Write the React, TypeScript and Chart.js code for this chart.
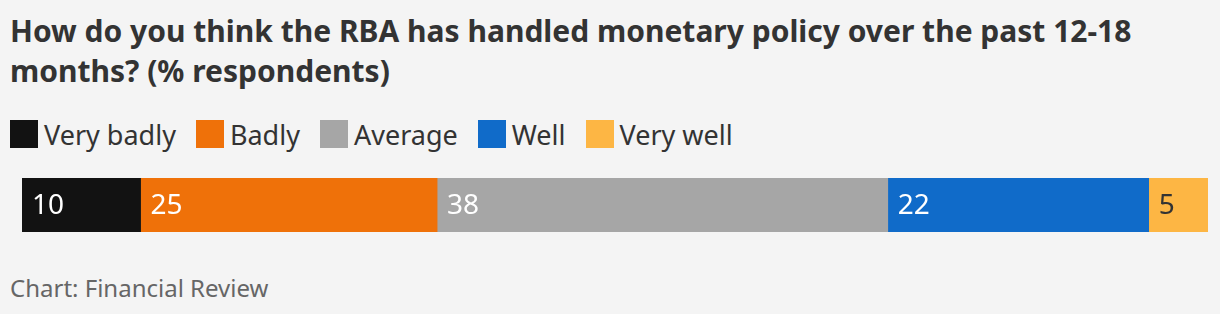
import React, { useEffect, useRef } from "react";
import { Chart, registerables } from "chart.js";

Chart.register(...registerables);

const categories = ["Respondents"];
const seriesNames = ["Very badly", "Badly", "Average", "Well", "Very well"];
const seriesValues = [10, 25, 38, 22, 5];
const seriesColors = ["#121212", "#ef7109", "#a6a6a6", "#106bc9", "#fdb644"];
const labelColors = ["#ffffff", "#ffffff", "#ffffff", "#ffffff", "#333333"];

const FONT = '"Noto Sans", "Open Sans", sans-serif';

export default function App() {
  const ref = useRef<HTMLCanvasElement | null>(null);

  useEffect(() => {
    if (!ref.current) return;
    const labelPlugin = {
      id: "segLabels",
      afterDatasetsDraw(chart: any) {
        const ctx = chart.ctx;
        ctx.save();
        ctx.font = `28px ${FONT}`;
        ctx.textBaseline = "alphabetic";
        ctx.textAlign = "left";
        chart.data.datasets.forEach((ds: any, i: number) => {
          const meta = chart.getDatasetMeta(i);
          meta.data.forEach((bar: any, j: number) => {
            const left = Math.min(bar.x, bar.base);
            ctx.fillStyle = labelColors[i];
            ctx.fillText(String(ds.data[j]), left + 10, bar.y + 9);
          });
        });
        ctx.restore();
      },
    };
    const chart = new Chart(ref.current, {
      type: "bar",
      data: {
        labels: categories,
        datasets: seriesNames.map((name, i) => ({
          label: name,
          data: [seriesValues[i]],
          backgroundColor: seriesColors[i],
          borderWidth: 0,
          barPercentage: 1,
          categoryPercentage: 1,
        })),
      },
      options: {
        indexAxis: "y",
        responsive: false,
        maintainAspectRatio: false,
        animation: false,
        layout: { padding: 0 },
        plugins: { legend: { display: false }, tooltip: { enabled: false }, title: { display: false } },
        scales: {
          x: { stacked: true, min: 0, max: 100, display: false },
          y: { stacked: true, display: false },
        },
      },
      plugins: [labelPlugin],
    });
    return () => chart.destroy();
  }, []);

  return (
    <div
      style={{
        position: "fixed",
        left: 0,
        top: 0,
        width: 1220,
        height: 314,
        background: "#f4f4f4",
        fontFamily: FONT,
        color: "#333333",
        overflow: "hidden",
      }}
    >
      <div
        style={{
          position: "absolute",
          left: 10,
          top: 11,
          width: 1200,
          fontSize: 30,
          fontWeight: 700,
          lineHeight: "40px",
          color: "#333333",
          whiteSpace: "nowrap",
        }}
      >
        How do you think the RBA has handled monetary policy over the past 12-18
        <br />
        months? (% respondents)
      </div>
      <div
        style={{
          position: "absolute",
          left: 10,
          top: 116,
          display: "flex",
          alignItems: "center",
          height: 36,
          fontSize: 27,
          color: "#333333",
          whiteSpace: "nowrap",
        }}
      >
        {seriesNames.map((n, i) => (
          <div key={n} style={{ display: "flex", alignItems: "center", marginRight: 20 }}>
            <span style={{ width: 28, height: 28, background: seriesColors[i], display: "inline-block", marginRight: 6 }} />
            <span>{n}</span>
          </div>
        ))}
      </div>
      <canvas ref={ref} width={1186} height={54} style={{ position: "absolute", left: 22, top: 178, width: 1186, height: 54 }} />
      <div style={{ position: "absolute", left: 10, top: 271, fontSize: 24, lineHeight: "normal", color: "#666666", whiteSpace: "nowrap" }}>
        Chart: Financial Review
      </div>
    </div>
  );
}
